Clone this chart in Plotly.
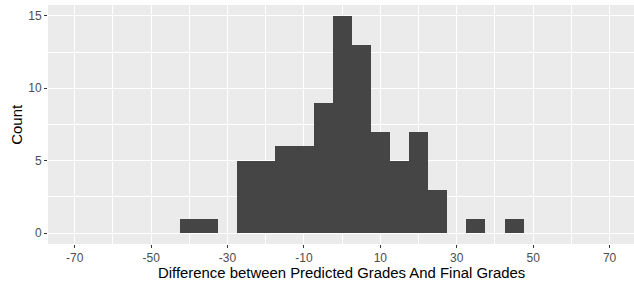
import plotly.graph_objects as go

bin_centers = [-40, -35, -30, -25, -20, -15, -10, -5, 0, 5, 10, 15, 20, 25, 30, 35, 40, 45]
counts = [1, 1, 0, 5, 5, 6, 6, 9, 15, 13, 7, 5, 7, 3, 0, 1, 0, 1]
bin_width = 5
x_ticks = [-70, -50, -30, -10, 10, 30, 50, 70]
y_ticks = [0, 5, 10, 15]
x_title = "Difference between Predicted Grades And Final Grades"
y_title = "Count"

fig = go.Figure(go.Bar(
    x=bin_centers, y=counts, width=bin_width,
    marker=dict(color="#454545", line=dict(width=0)),
    hoverinfo="skip",
))

font = "Liberation Sans, Arial, sans-serif"
fig.update_layout(
    width=634, height=286, autosize=False,
    margin=dict(l=48, r=0, t=5, b=42, autoexpand=False),
    paper_bgcolor="white", plot_bgcolor="#EBEBEB",
    bargap=0, showlegend=False,
    font=dict(family=font, color="#4D4D4D"),
    annotations=[
        dict(text=x_title, xref="paper", yref="paper", x=0.5, y=-0.12,
             xanchor="center", yanchor="middle", showarrow=False,
             font=dict(size=14.9, color="black", family=font)),
        dict(text=y_title, xref="paper", yref="paper", x=-0.054, y=0.5,
             xanchor="center", yanchor="middle", showarrow=False, textangle=-90,
             font=dict(size=15, color="black", family=font)),
    ],
)
fig.update_xaxes(
    range=[-77, 76.4], tickvals=x_ticks, ticktext=[str(v) for v in x_ticks],
    showgrid=True, gridcolor="white", gridwidth=1.1,
    minor=dict(tickvals=[-60, -40, -20, 0, 20, 40, 60], showgrid=True, gridcolor="white", gridwidth=0.5),
    ticks="outside", ticklen=3, tickcolor="#333333", tickwidth=1,
    tickfont=dict(size=12, color="#4D4D4D", family=font),
    zeroline=False, showline=False, automargin=False,
)
fig.update_yaxes(
    range=[-0.75, 15.75], tickvals=y_ticks, ticktext=[str(v) for v in y_ticks],
    showgrid=True, gridcolor="white", gridwidth=1.1,
    minor=dict(tickvals=[2.5, 7.5, 12.5], showgrid=True, gridcolor="white", gridwidth=0.5),
    ticks="outside", ticklen=3, tickcolor="#333333", tickwidth=1,
    tickfont=dict(size=12, color="#4D4D4D", family=font),
    zeroline=False, showline=False, automargin=False,
)
fig.write_html(
    "out.html",
    config={"displayModeBar": False},
    post_script="document.body.style.margin='0';document.body.style.overflow='hidden';",
)
